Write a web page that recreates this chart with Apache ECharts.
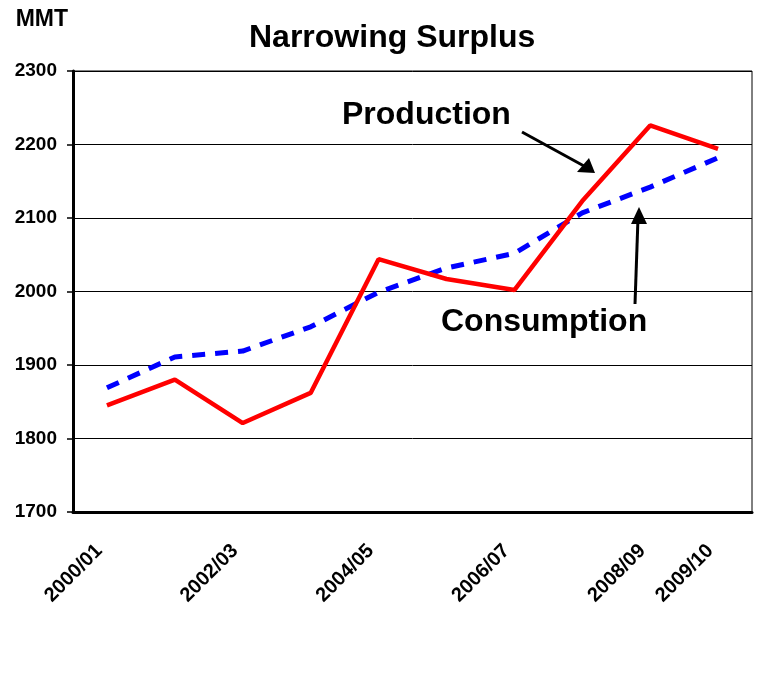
<!DOCTYPE html>
<html>
<head>
<meta charset="utf-8">
<script src="https://cdn.jsdelivr.net/npm/echarts@6/dist/echarts.min.js"></script>
<style>
    html, body { margin: 0; padding: 0; background: #fff; }
    #chart { width: 759px; height: 678px; }
</style>
</head>
<body>
<div id="chart"></div>
<script>
    // marketing years
    var years = ['2000/01', '2001/02', '2002/03', '2003/04', '2004/05',
                 '2005/06', '2006/07', '2007/08', '2008/09', '2009/10'];
    // only these get a label on the x axis
    var shownYears = ['2000/01', '2002/03', '2004/05', '2006/07', '2008/09', '2009/10'];

    var production  = [1845, 1880, 1821, 1862, 2044, 2017, 2002, 2123, 2226, 2194];
    var consumption = [1869, 1911, 1919, 1952, 1999, 2032, 2052, 2107, 2142, 2182];

    var yTicks = [1700, 1800, 1900, 2000, 2100, 2200, 2300];

    var font = 'Liberation Sans, Arial, sans-serif';

    var chart = echarts.init(document.getElementById('chart'));
    chart.setOption({
        animation: false,
        title: {
            text: 'Narrowing Surplus',
            left: 244,
            top: 17,
            textStyle: { fontFamily: font, fontSize: 32, fontWeight: 'bold', color: '#000' }
        },
        grid: {
            left: 73, right: 7, top: 71, bottom: 166,
            show: true, borderColor: '#000', borderWidth: 1, backgroundColor: '#fff'
        },
        xAxis: {
            type: 'category',
            data: years,
            boundaryGap: true,
            axisLine: { lineStyle: { color: '#000', width: 3 } },
            axisTick: { interval: 0, length: 8, lineStyle: { color: '#000', width: 1.5 } },
            axisLabel: {
                interval: function (i, v) { return shownYears.indexOf(v) >= 0; },
                rotate: 45,
                margin: 28,
                padding: [0, 11, 0, 0],
                fontFamily: font, fontSize: 20, fontWeight: 'bold', color: '#000'
            }
        },
        yAxis: {
            type: 'value',
            min: yTicks[0],
            max: yTicks[yTicks.length - 1],
            interval: 100,
            name: 'MMT',
            nameLocation: 'end',
            nameGap: 40,
            nameTextStyle: { fontFamily: font, fontSize: 23, fontWeight: 'bold', color: '#000', align: 'right', padding: [0, 5, 0, 0] },
            axisLine: { show: true, lineStyle: { color: '#000', width: 3 } },
            axisTick: { show: true, length: 6, lineStyle: { color: '#000', width: 1.5 } },
            splitLine: { lineStyle: { color: '#000', width: 1 } },
            axisLabel: {
                margin: 16,
                formatter: function (v) { return String(v); },
                fontFamily: font, fontSize: 19, fontWeight: 'bold', color: '#000'
            }
        },
        series: [
            {
                name: 'Consumption',
                type: 'line',
                data: consumption,
                symbol: 'none',
                lineStyle: { color: '#0000ff', width: 5, type: [13, 10] }
            },
            {
                name: 'Production',
                type: 'line',
                data: production,
                symbol: 'none',
                lineStyle: { color: '#ff0000', width: 4.5 }
            }
        ],
        graphic: [
            {
                type: 'text', left: 342, top: 99,
                style: { text: 'Production', fontFamily: font, fontSize: 32, fontWeight: 'bold', fill: '#000' }
            },
            {
                type: 'text', left: 441, top: 306,
                style: { text: 'Consumption', fontFamily: font, fontSize: 32, fontWeight: 'bold', fill: '#000' }
            },
            {
                type: 'line',
                shape: { x1: 522, y1: 132, x2: 584, y2: 166 },
                style: { stroke: '#000', lineWidth: 3 }
            },
            {
                type: 'polygon',
                shape: { points: [[595, 173], [577, 172], [589, 158]] },
                style: { fill: '#000' }
            },
            {
                type: 'line',
                shape: { x1: 635, y1: 304, x2: 638, y2: 218 },
                style: { stroke: '#000', lineWidth: 3 }
            },
            {
                type: 'polygon',
                shape: { points: [[639, 207], [631, 224], [647, 224]] },
                style: { fill: '#000' }
            }
        ]
    });
</script>
</body>
</html>
